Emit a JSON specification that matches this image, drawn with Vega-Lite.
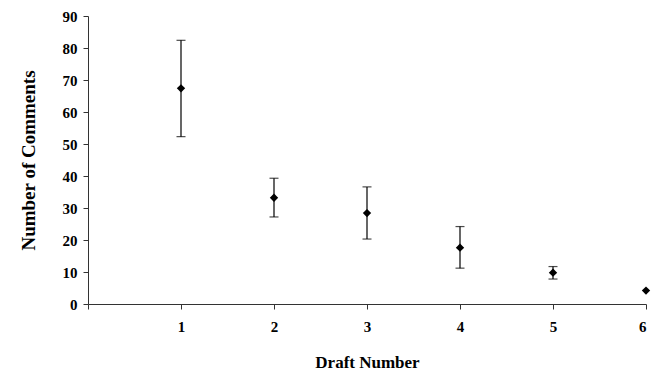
{
  "$schema": "https://vega.github.io/schema/vega-lite/v6.json",
  "autosize": {"type": "none"},
  "width": 558,
  "height": 288,
  "padding": {"left": 88, "top": 16, "right": 13, "bottom": 75},
  "background": "white",
  "config": {
    "view": {"stroke": null},
    "font": "Liberation Serif"
  },
  "data": {
    "values": [
      {"draft": 1, "mean": 67.4, "low": 52.3, "high": 82.4},
      {"draft": 2, "mean": 33.2, "low": 27.2, "high": 39.3},
      {"draft": 3, "mean": 28.4, "low": 20.3, "high": 36.6},
      {"draft": 4, "mean": 17.6, "low": 11.2, "high": 24.2},
      {"draft": 5, "mean": 9.8, "low": 7.8, "high": 11.7},
      {"draft": 6, "mean": 4.2, "low": 4.2, "high": 4.2}
    ]
  },
  "encoding": {
    "x": {
      "field": "draft",
      "type": "quantitative",
      "scale": {"domain": [0, 6], "nice": false, "zero": false},
      "axis": {
        "title": "Draft Number",
        "grid": false,
        "domainColor": "#333333",
        "tickColor": "#333333",
        "tickSize": 5,
        "labelFont": "Liberation Serif",
        "labelFontWeight": "bold",
        "labelFontSize": 15,
        "labelColor": "black",
        "titleFont": "Liberation Serif",
        "titleFontWeight": "bold",
        "titleColor": "black",
        "titleFontSize": 17,
        "values": [0, 1, 2, 3, 4, 5, 6],
        "labelExpr": "datum.value == 0 ? '' : datum.label",
        "labelPadding": 10,
        "titlePadding": 20
      }
    },
    "y": {
      "field": "low",
      "type": "quantitative",
      "scale": {"domain": [0, 90], "nice": false},
      "axis": {
        "title": "Number of Comments",
        "grid": false,
        "domainColor": "#333333",
        "tickColor": "#333333",
        "tickSize": 5,
        "labelFont": "Liberation Serif",
        "labelFontWeight": "bold",
        "labelFontSize": 15,
        "labelColor": "black",
        "labelOverlap": false,
        "titleFont": "Liberation Serif",
        "titleFontWeight": "bold",
        "titleColor": "black",
        "titleFontSize": 19,
        "values": [0, 10, 20, 30, 40, 50, 60, 70, 80, 90],
        "tickCount": 10,
        "labelPadding": 6,
        "titlePadding": 24
      }
    }
  },
  "layer": [
    {
      "mark": {"type": "rule", "color": "black", "strokeWidth": 1.2},
      "encoding": {
        "y2": {"field": "high"}
      }
    },
    {
      "mark": {"type": "tick", "color": "black", "orient": "horizontal", "size": 9, "thickness": 1.2},
      "transform": [{"filter": "datum.draft < 6"}]
    },
    {
      "mark": {"type": "tick", "color": "black", "orient": "horizontal", "size": 9, "thickness": 1.2},
      "encoding": {
        "y": {"field": "high", "type": "quantitative"}
      },
      "transform": [{"filter": "datum.draft < 6"}]
    },
    {
      "mark": {"type": "point", "shape": "diamond", "filled": true, "color": "black", "size": 70, "opacity": 1},
      "encoding": {
        "y": {"field": "mean", "type": "quantitative"}
      }
    }
  ]
}
